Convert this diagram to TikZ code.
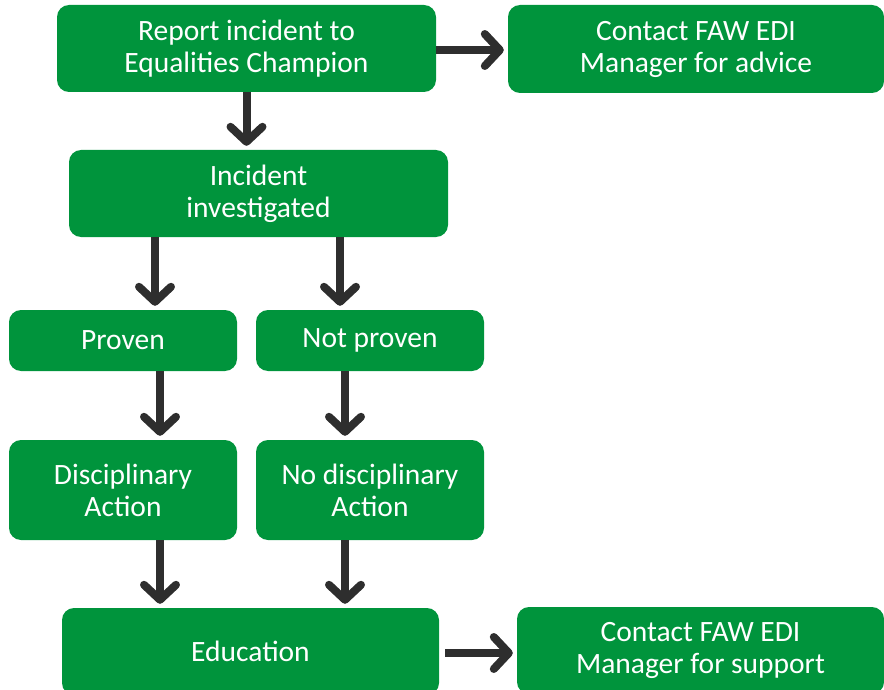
\documentclass[tikz,border=0pt]{standalone}
\usepackage{fontspec}
\setmainfont{Carlito}
\usetikzlibrary{arrows.meta}
\definecolor{fawgreen}{HTML}{00943C}
\definecolor{arrowgray}{HTML}{2E2E2E}

\begin{document}
\begin{tikzpicture}[x=1pt,y=-1pt,
	box/.style={fill=fawgreen, rounded corners=12pt, text=white, align=center,
		font=\fontsize{29.5}{32}\selectfont, inner sep=0pt},
	arr/.style={draw=arrowgray, line width=8pt,
		-{Straight Barb[length=15pt,width=32pt,round]}, shorten >=4pt}]
	
	\useasboundingbox (0,0) rectangle (884,690);
	
	% top row
	\node[box, minimum width=379pt, minimum height=87pt] (report) at (246.5,48.5) {Report incident to\\Equalities Champion};
	\node[box, minimum width=376pt, minimum height=88pt] (advice) at (696,49) {Contact FAW EDI\\Manager for advice};
	\node[box, minimum width=379pt, minimum height=87pt] (investigated) at (258.5,193.5) {Incident\\investigated};
	
	% outcomes
	\node[box, minimum width=228pt, minimum height=61pt] (proven) at (123,340.5) {Proven};
	\node[box, minimum width=228pt, minimum height=61pt] (notproven) at (370,340.5) {Not proven};
	\node[box, minimum width=228pt, minimum height=100pt] (action) at (123,490) {Disciplinary\\Action};
	\node[box, minimum width=228pt, minimum height=100pt] (noaction) at (370,490) {No disciplinary\\Action};
	
	% bottom row
	\node[box, minimum width=377pt, minimum height=87pt] (education) at (250.5,651.5) {Education};
	\node[box, minimum width=367pt, minimum height=87pt] (support) at (700.5,650.5) {Contact FAW EDI\\Manager for support};
	
	\draw[arr] ([yshift=-1.5pt]report.east) -- ([yshift=-1.5pt]report.east -| advice.west);
	\draw[arr] (report.south) -- (report.south |- investigated.north);
	\draw[arr] ([xshift=32pt]proven.north |- investigated.south) -- ([xshift=32pt]proven.north);
	\draw[arr] ([xshift=-30pt]notproven.north |- investigated.south) -- ([xshift=-30pt]notproven.north);
	\draw[arr] ([xshift=37pt]proven.south) -- ([xshift=37pt]action.north);
	\draw[arr] ([xshift=-25pt]notproven.south) -- ([xshift=-25pt]noaction.north);
	\draw[arr] ([xshift=37pt]action.south) -- ([xshift=37pt]action.south |- education.north);
	\draw[arr] ([xshift=-25pt]noaction.south) -- ([xshift=-25pt]noaction.south |- education.north);
	\draw[arr] ([shift={(6pt,-1.5pt)}]education.east) -- ([yshift=-1.5pt]education.east -| support.west);
\end{tikzpicture}
\end{document}
